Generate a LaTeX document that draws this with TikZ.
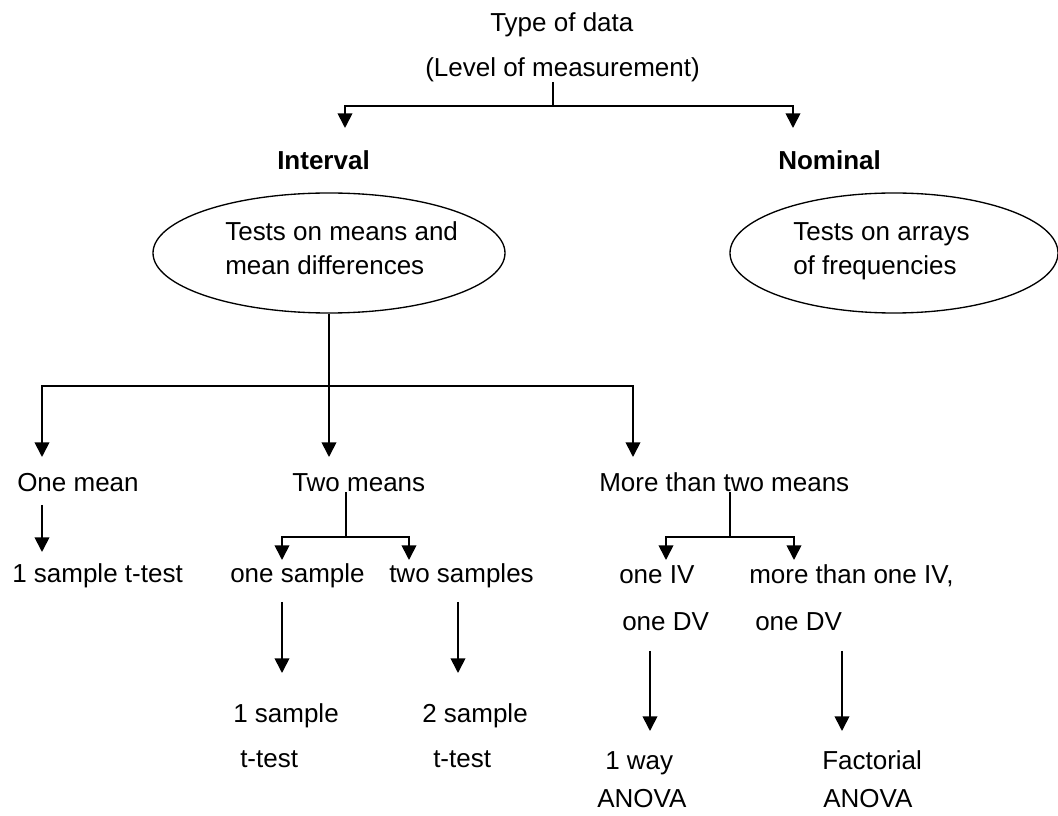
\documentclass[tikz,border=0pt]{standalone}
\usepackage{fontspec}
\setmainfont{Liberation Sans}
\usetikzlibrary{arrows.meta,shapes.geometric}
\begin{document}
\begin{tikzpicture}[x=0.75pt,y=-0.75pt,
  lbl/.style={font=\fontsize{19.5pt}{23pt}\selectfont, inner sep=0pt, anchor=base west},
  head/.style={lbl, font=\fontsize{19.5pt}{23pt}\selectfont\bfseries},
  oval/.style={draw, ellipse, line width=1pt, inner sep=0pt,
               minimum width=264pt, minimum height=90pt},
  link/.style={line width=1.3pt},
  arr/.style={link, -{Triangle[width=11pt,length=11pt]}}]

\fill[white] (0,0) rectangle (1058,816);
\useasboundingbox (0,0) rectangle (1058,816);

% heading
\node[lbl] (title) at (490,32) {Type of data};
\node[lbl] (level) at (425,77) {(Level of measurement)};

% two kinds of data
\node[head] (interval) at (277,170) {Interval};
\node[head] (nominal) at (778,170) {Nominal};

\node[oval] (meansE) at (329,253) {};
\node[lbl] (meansA) at (225,241) {Tests on means and};
\node[lbl] (meansB) at (225,275) {mean differences};

\node[oval, minimum width=246pt] (freqE) at (894,253) {};
\node[lbl] (freqA) at (793,241) {Tests on arrays};
\node[lbl] (freqB) at (793,275) {of frequencies};

% number of means
\node[lbl] (onemean) at (17,492) {One mean};
\node[lbl] (twomeans) at (292,492) {Two means};
\node[lbl] (moremeans) at (599,492) {More than two means};

\node[lbl] (onettest) at (12,583) {1 sample t-test};
\node[lbl] (onesample) at (230,583) {one sample};
\node[lbl] (twosamples) at (389,583) {two samples};
\node[lbl] (oneiv) at (619,584) {one IV};
\node[lbl] (moreiv) at (749,584) {more than one IV,};
\node[lbl] (onedvA) at (622,631) {one DV};
\node[lbl] (onedvB) at (755,631) {one DV};

% tests
\node[lbl] (sampA1) at (233,723) {1 sample};
\node[lbl] (sampA2) at (240,768) {t-test};
\node[lbl] (sampB1) at (422,723) {2 sample};
\node[lbl] (sampB2) at (433,768) {t-test};
\node[lbl] (anovaA1) at (605,769) {1 way};
\node[lbl] (anovaA2) at (597,807) {ANOVA};
\node[lbl] (anovaB1) at (822,769) {Factorial};
\node[lbl] (anovaB2) at (823,807) {ANOVA};

% junction points and arrow ends
\coordinate (t0) at (553,82);
\coordinate (t1) at (553,106);
\coordinate (tl) at (345,128);
\coordinate (tr) at (793,128);

\coordinate (m1) at (329,386);
\coordinate (mA) at (42,457);
\coordinate (mB) at (329,457);
\coordinate (mC) at (633,457);

\coordinate (o0) at (42,505);
\coordinate (o1) at (42,552);

\coordinate (w0) at (346,492);
\coordinate (w1) at (346,537);
\coordinate (wA) at (282,560);
\coordinate (wB) at (409,560);

\coordinate (r0) at (730,492);
\coordinate (r1) at (730,537);
\coordinate (rA) at (666,560);
\coordinate (rB) at (794,560);

\coordinate (s0) at (282,602);
\coordinate (s1) at (282,673);
\coordinate (u0) at (458,602);
\coordinate (u1) at (458,673);

\coordinate (v0) at (650,651);
\coordinate (v1) at (650,731);
\coordinate (x0) at (842,651);
\coordinate (x1) at (842,731);

% connectors
\draw[link] (t0) -- (t1);
\draw[arr] (t1) -| (tl);
\draw[arr] (t1) -| (tr);

\draw[link] (meansE.south) -- (m1);
\draw[arr] (m1) -| (mA);
\draw[arr] (m1) -- (mB);
\draw[arr] (m1) -| (mC);

\draw[arr] (o0) -- (o1);

\draw[link] (w0) -- (w1);
\draw[arr] (w1) -| (wA);
\draw[arr] (w1) -| (wB);

\draw[link] (r0) -- (r1);
\draw[arr] (r1) -| (rA);
\draw[arr] (r1) -| (rB);

\draw[arr] (s0) -- (s1);
\draw[arr] (u0) -- (u1);
\draw[arr] (v0) -- (v1);
\draw[arr] (x0) -- (x1);
\end{tikzpicture}
\end{document}
